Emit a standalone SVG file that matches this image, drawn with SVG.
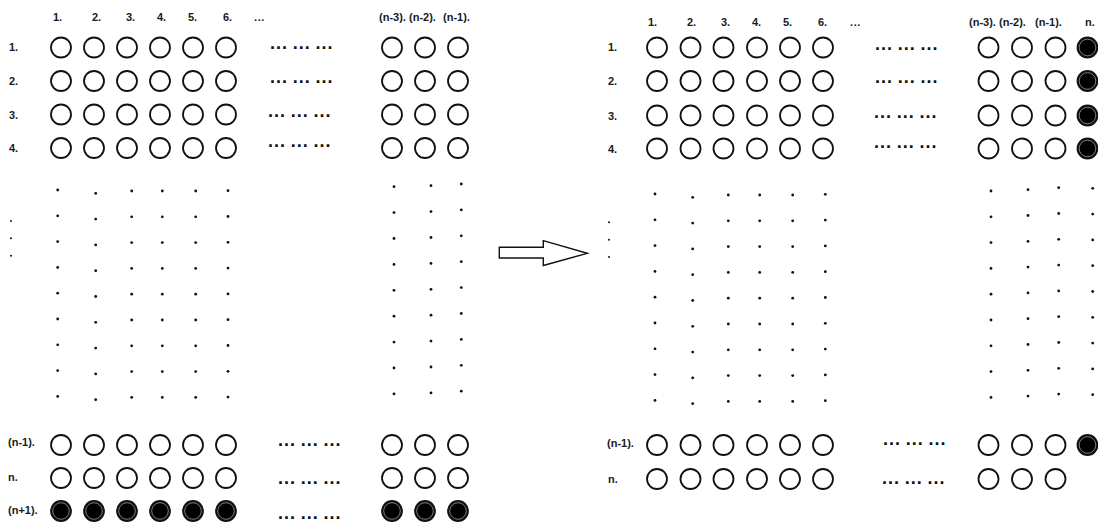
<svg xmlns="http://www.w3.org/2000/svg" xmlns:xlink="http://www.w3.org/1999/xlink" width="1098" height="522" viewBox="0 0 1098 522">
<style>
.t{font-family:"Liberation Sans",Arial,sans-serif;font-weight:bold;font-size:11px;fill:#1a1a1a}
.e{font-family:"Liberation Sans",Arial,sans-serif;font-weight:bold;font-size:18px;letter-spacing:1px;word-spacing:-1.3px;fill:#111}
.h{font-family:"Liberation Sans",Arial,sans-serif;font-weight:bold;font-size:11px;letter-spacing:0.6px;fill:#1a1a1a}
.d{fill:#111}
</style>
<defs>
<g id="o"><circle r="10" fill="#fff" stroke="#111" stroke-width="1.8"/></g>
<g id="f"><circle r="10" fill="#000" stroke="#111" stroke-width="1.8"/><circle r="8.3" fill="none" stroke="#a0a0a0" stroke-width="0.8"/></g>
<g id="c1"><circle r="1.4" class="d"/></g>
</defs>
<rect width="1098" height="522" fill="#fff"/>

<g id="left-panel">
<g id="left-headers">
<text class="t" x="53" y="21">1.</text><text class="t" x="92" y="21">2.</text><text class="t" x="126" y="21">3.</text><text class="t" x="157" y="21">4.</text><text class="t" x="188" y="21">5.</text><text class="t" x="223" y="21">6.</text><text class="h" x="254" y="21">...</text>
<text class="t" x="379" y="21">(n-3).</text><text class="t" x="409" y="21">(n-2).</text><text class="t" x="443" y="21">(n-1).</text>
</g>
<g id="left-row-labels">
<text class="t" x="9" y="51">1.</text><text class="t" x="9" y="85">2.</text><text class="t" x="9" y="119">3.</text><text class="t" x="9" y="152">4.</text>
<text class="t" x="8" y="446">(n-1).</text><text class="t" x="8" y="481">n.</text><text class="t" x="8" y="514">(n+1).</text>
</g>
<g id="left-rows">
<g id="L-r1"><use href="#o" x="61" y="47.5"/><use href="#o" x="94" y="47.5"/><use href="#o" x="127" y="47.5"/><use href="#o" x="160" y="47.5"/><use href="#o" x="193" y="47.5"/><use href="#o" x="226" y="47.5"/><use href="#o" x="392" y="47.5"/><use href="#o" x="425" y="47.5"/><use href="#o" x="458" y="47.5"/></g>
<g id="L-r2"><use href="#o" x="61" y="81"/><use href="#o" x="94" y="81"/><use href="#o" x="127" y="81"/><use href="#o" x="160" y="81"/><use href="#o" x="193" y="81"/><use href="#o" x="226" y="81"/><use href="#o" x="392" y="81"/><use href="#o" x="425" y="81"/><use href="#o" x="458" y="81"/></g>
<g id="L-r3"><use href="#o" x="61" y="114.5"/><use href="#o" x="94" y="114.5"/><use href="#o" x="127" y="114.5"/><use href="#o" x="160" y="114.5"/><use href="#o" x="193" y="114.5"/><use href="#o" x="226" y="114.5"/><use href="#o" x="392" y="114.5"/><use href="#o" x="425" y="114.5"/><use href="#o" x="458" y="114.5"/></g>
<g id="L-r4"><use href="#o" x="61" y="148"/><use href="#o" x="94" y="148"/><use href="#o" x="127" y="148"/><use href="#o" x="160" y="148"/><use href="#o" x="193" y="148"/><use href="#o" x="226" y="148"/><use href="#o" x="392" y="148"/><use href="#o" x="425" y="148"/><use href="#o" x="458" y="148"/></g>
<g id="L-rn1"><use href="#o" x="61" y="445"/><use href="#o" x="94" y="445"/><use href="#o" x="127" y="445"/><use href="#o" x="160" y="445"/><use href="#o" x="193" y="445"/><use href="#o" x="226" y="445"/><use href="#o" x="392" y="445"/><use href="#o" x="425" y="445"/><use href="#o" x="458" y="445"/></g>
<g id="L-rn"><use href="#o" x="61" y="478"/><use href="#o" x="94" y="478"/><use href="#o" x="127" y="478"/><use href="#o" x="160" y="478"/><use href="#o" x="193" y="478"/><use href="#o" x="226" y="478"/><use href="#o" x="392" y="478"/><use href="#o" x="425" y="478"/><use href="#o" x="458" y="478"/></g>
<g id="L-rnp1"><use href="#f" x="61" y="511"/><use href="#f" x="94" y="511"/><use href="#f" x="127" y="511"/><use href="#f" x="160" y="511"/><use href="#f" x="193" y="511"/><use href="#f" x="226" y="511"/><use href="#f" x="392" y="511"/><use href="#f" x="425" y="511"/><use href="#f" x="458" y="511"/></g>
</g>
<g id="left-ellipses">
<text class="e" x="270" y="49">... ... ...</text>
<text class="e" x="270" y="83">... ... ...</text>
<text class="e" x="268" y="117">... ... ...</text>
<text class="e" x="268" y="147">... ... ...</text>
<text class="e" x="278" y="446">... ... ...</text>
<text class="e" x="278" y="484">... ... ...</text>
<text class="e" x="278" y="519">... ... ...</text>
</g>
<g id="left-dots">
<circle class="d" cx="11" cy="221" r="1"/><circle class="d" cx="11" cy="238.3" r="1"/><circle class="d" cx="11" cy="255.7" r="1"/>
<g transform="translate(57.7,190)"><use href="#c1" y="0"/><use href="#c1" y="25.8"/><use href="#c1" y="51.6"/><use href="#c1" y="77.4"/><use href="#c1" y="103.2"/><use href="#c1" y="129"/><use href="#c1" y="154.8"/><use href="#c1" y="180.6"/><use href="#c1" y="206.4"/></g>
<g transform="translate(95.7,193.3)"><use href="#c1" y="0"/><use href="#c1" y="25.8"/><use href="#c1" y="51.6"/><use href="#c1" y="77.4"/><use href="#c1" y="103.2"/><use href="#c1" y="129"/><use href="#c1" y="154.8"/><use href="#c1" y="180.6"/><use href="#c1" y="206.4"/></g>
<g transform="translate(131.7,191)"><use href="#c1" y="0"/><use href="#c1" y="25.8"/><use href="#c1" y="51.6"/><use href="#c1" y="77.4"/><use href="#c1" y="103.2"/><use href="#c1" y="129"/><use href="#c1" y="154.8"/><use href="#c1" y="180.6"/><use href="#c1" y="206.4"/></g>
<g transform="translate(162.3,191)"><use href="#c1" y="0"/><use href="#c1" y="25.8"/><use href="#c1" y="51.6"/><use href="#c1" y="77.4"/><use href="#c1" y="103.2"/><use href="#c1" y="129"/><use href="#c1" y="154.8"/><use href="#c1" y="180.6"/><use href="#c1" y="206.4"/></g>
<g transform="translate(195.7,191)"><use href="#c1" y="0"/><use href="#c1" y="25.8"/><use href="#c1" y="51.6"/><use href="#c1" y="77.4"/><use href="#c1" y="103.2"/><use href="#c1" y="129"/><use href="#c1" y="154.8"/><use href="#c1" y="180.6"/><use href="#c1" y="206.4"/></g>
<g transform="translate(228,190.7)"><use href="#c1" y="0"/><use href="#c1" y="25.8"/><use href="#c1" y="51.6"/><use href="#c1" y="77.4"/><use href="#c1" y="103.2"/><use href="#c1" y="129"/><use href="#c1" y="154.8"/><use href="#c1" y="180.6"/><use href="#c1" y="206.4"/></g>
<g transform="translate(394,186.7)"><use href="#c1" y="0"/><use href="#c1" y="25.9"/><use href="#c1" y="51.8"/><use href="#c1" y="77.7"/><use href="#c1" y="103.6"/><use href="#c1" y="129.5"/><use href="#c1" y="155.4"/><use href="#c1" y="181.3"/><use href="#c1" y="207.2"/></g>
<g transform="translate(431,185.7)"><use href="#c1" y="0"/><use href="#c1" y="25.9"/><use href="#c1" y="51.8"/><use href="#c1" y="77.7"/><use href="#c1" y="103.6"/><use href="#c1" y="129.5"/><use href="#c1" y="155.4"/><use href="#c1" y="181.3"/><use href="#c1" y="207.2"/></g>
<g transform="translate(461.3,184)"><use href="#c1" y="0"/><use href="#c1" y="25.9"/><use href="#c1" y="51.8"/><use href="#c1" y="77.7"/><use href="#c1" y="103.6"/><use href="#c1" y="129.5"/><use href="#c1" y="155.4"/><use href="#c1" y="181.3"/><use href="#c1" y="207.2"/></g>
</g>
</g>

<g id="connectors">
<polygon id="arrow" points="499.3,247.3 543.3,247.3 543.3,240.7 587.3,253.3 543.3,265.5 543.3,258 499.3,258" fill="#fff" stroke="#111" stroke-width="1.4" stroke-linejoin="miter"/>
</g>

<g id="right-panel">
<g id="right-headers">
<text class="t" x="648" y="26">1.</text><text class="t" x="687" y="26">2.</text><text class="t" x="721" y="26">3.</text><text class="t" x="752" y="26">4.</text><text class="t" x="783" y="26">5.</text><text class="t" x="818" y="26">6.</text><text class="h" x="850" y="26">...</text>
<text class="t" x="969" y="26">(n-3).</text><text class="t" x="999" y="26">(n-2).</text><text class="t" x="1035" y="26">(n-1).</text><text class="t" x="1085" y="26">n.</text>
</g>
<g id="right-row-labels">
<text class="t" x="608" y="51">1.</text><text class="t" x="608" y="85">2.</text><text class="t" x="608" y="120">3.</text><text class="t" x="608" y="153">4.</text>
<text class="t" x="607" y="447">(n-1).</text><text class="t" x="608" y="483">n.</text>
</g>
<g id="right-rows">
<g id="R-r1"><use href="#o" x="657" y="47.5"/><use href="#o" x="690.5" y="47.5"/><use href="#o" x="723.5" y="47.5"/><use href="#o" x="757" y="47.5"/><use href="#o" x="790" y="47.5"/><use href="#o" x="823" y="47.5"/><use href="#o" x="988.5" y="47.5"/><use href="#o" x="1022" y="47.5"/><use href="#o" x="1055.5" y="47.5"/><use href="#f" x="1087.5" y="47.5"/></g>
<g id="R-r2"><use href="#o" x="657" y="81"/><use href="#o" x="690.5" y="81"/><use href="#o" x="723.5" y="81"/><use href="#o" x="757" y="81"/><use href="#o" x="790" y="81"/><use href="#o" x="823" y="81"/><use href="#o" x="988.5" y="81"/><use href="#o" x="1022" y="81"/><use href="#o" x="1055.5" y="81"/><use href="#f" x="1087.5" y="81"/></g>
<g id="R-r3"><use href="#o" x="657" y="115.5"/><use href="#o" x="690.5" y="115.5"/><use href="#o" x="723.5" y="115.5"/><use href="#o" x="757" y="115.5"/><use href="#o" x="790" y="115.5"/><use href="#o" x="823" y="115.5"/><use href="#o" x="988.5" y="115.5"/><use href="#o" x="1022" y="115.5"/><use href="#o" x="1055.5" y="115.5"/><use href="#f" x="1087.5" y="115.5"/></g>
<g id="R-r4"><use href="#o" x="657" y="148.5"/><use href="#o" x="690.5" y="148.5"/><use href="#o" x="723.5" y="148.5"/><use href="#o" x="757" y="148.5"/><use href="#o" x="790" y="148.5"/><use href="#o" x="823" y="148.5"/><use href="#o" x="988.5" y="148.5"/><use href="#o" x="1022" y="148.5"/><use href="#o" x="1055.5" y="148.5"/><use href="#f" x="1087.5" y="148.5"/></g>
<g id="R-rn1"><use href="#o" x="657" y="445"/><use href="#o" x="690.5" y="445"/><use href="#o" x="723.5" y="445"/><use href="#o" x="757" y="445"/><use href="#o" x="790" y="445"/><use href="#o" x="823" y="445"/><use href="#o" x="988.5" y="445"/><use href="#o" x="1022" y="445"/><use href="#o" x="1055.5" y="445"/><use href="#f" x="1087.5" y="445"/></g>
<g id="R-rn"><use href="#o" x="657" y="479"/><use href="#o" x="690.5" y="479"/><use href="#o" x="723.5" y="479"/><use href="#o" x="757" y="479"/><use href="#o" x="790" y="479"/><use href="#o" x="823" y="479"/><use href="#o" x="988.5" y="479"/><use href="#o" x="1022" y="479"/><use href="#o" x="1055.5" y="479"/></g>
</g>
<g id="right-ellipses">
<text class="e" x="875" y="50">... ... ...</text>
<text class="e" x="875" y="83">... ... ...</text>
<text class="e" x="874" y="118">... ... ...</text>
<text class="e" x="874" y="148">... ... ...</text>
<text class="e" x="883" y="445">... ... ...</text>
<text class="e" x="882" y="484">... ... ...</text>
</g>
<g id="right-dots">
<circle class="d" cx="609" cy="222.3" r="1"/><circle class="d" cx="609" cy="239.7" r="1"/><circle class="d" cx="609" cy="257" r="1"/>
<g transform="translate(655,194)"><use href="#c1" y="0"/><use href="#c1" y="25.8"/><use href="#c1" y="51.6"/><use href="#c1" y="77.4"/><use href="#c1" y="103.2"/><use href="#c1" y="129"/><use href="#c1" y="154.8"/><use href="#c1" y="180.6"/><use href="#c1" y="206.4"/></g>
<g transform="translate(692.7,197.3)"><use href="#c1" y="0"/><use href="#c1" y="25.8"/><use href="#c1" y="51.6"/><use href="#c1" y="77.4"/><use href="#c1" y="103.2"/><use href="#c1" y="129"/><use href="#c1" y="154.8"/><use href="#c1" y="180.6"/><use href="#c1" y="206.4"/></g>
<g transform="translate(728.3,195)"><use href="#c1" y="0"/><use href="#c1" y="25.8"/><use href="#c1" y="51.6"/><use href="#c1" y="77.4"/><use href="#c1" y="103.2"/><use href="#c1" y="129"/><use href="#c1" y="154.8"/><use href="#c1" y="180.6"/><use href="#c1" y="206.4"/></g>
<g transform="translate(759.7,195)"><use href="#c1" y="0"/><use href="#c1" y="25.8"/><use href="#c1" y="51.6"/><use href="#c1" y="77.4"/><use href="#c1" y="103.2"/><use href="#c1" y="129"/><use href="#c1" y="154.8"/><use href="#c1" y="180.6"/><use href="#c1" y="206.4"/></g>
<g transform="translate(792.7,195)"><use href="#c1" y="0"/><use href="#c1" y="25.8"/><use href="#c1" y="51.6"/><use href="#c1" y="77.4"/><use href="#c1" y="103.2"/><use href="#c1" y="129"/><use href="#c1" y="154.8"/><use href="#c1" y="180.6"/><use href="#c1" y="206.4"/></g>
<g transform="translate(825.3,194.3)"><use href="#c1" y="0"/><use href="#c1" y="25.8"/><use href="#c1" y="51.6"/><use href="#c1" y="77.4"/><use href="#c1" y="103.2"/><use href="#c1" y="129"/><use href="#c1" y="154.8"/><use href="#c1" y="180.6"/><use href="#c1" y="206.4"/></g>
<g transform="translate(991,191)"><use href="#c1" y="0"/><use href="#c1" y="25.8"/><use href="#c1" y="51.6"/><use href="#c1" y="77.4"/><use href="#c1" y="103.2"/><use href="#c1" y="129"/><use href="#c1" y="154.8"/><use href="#c1" y="180.6"/><use href="#c1" y="206.4"/></g>
<g transform="translate(1028,189.7)"><use href="#c1" y="0"/><use href="#c1" y="25.8"/><use href="#c1" y="51.6"/><use href="#c1" y="77.4"/><use href="#c1" y="103.2"/><use href="#c1" y="129"/><use href="#c1" y="154.8"/><use href="#c1" y="180.6"/><use href="#c1" y="206.4"/></g>
<g transform="translate(1058.7,187.7)"><use href="#c1" y="0"/><use href="#c1" y="25.8"/><use href="#c1" y="51.6"/><use href="#c1" y="77.4"/><use href="#c1" y="103.2"/><use href="#c1" y="129"/><use href="#c1" y="154.8"/><use href="#c1" y="180.6"/><use href="#c1" y="206.4"/></g>
<g transform="translate(1092.7,188.3)"><use href="#c1" y="0"/><use href="#c1" y="25.8"/><use href="#c1" y="51.6"/><use href="#c1" y="77.4"/><use href="#c1" y="103.2"/><use href="#c1" y="129"/><use href="#c1" y="154.8"/><use href="#c1" y="180.6"/><use href="#c1" y="206.4"/></g>
</g>
</g>
</svg>
